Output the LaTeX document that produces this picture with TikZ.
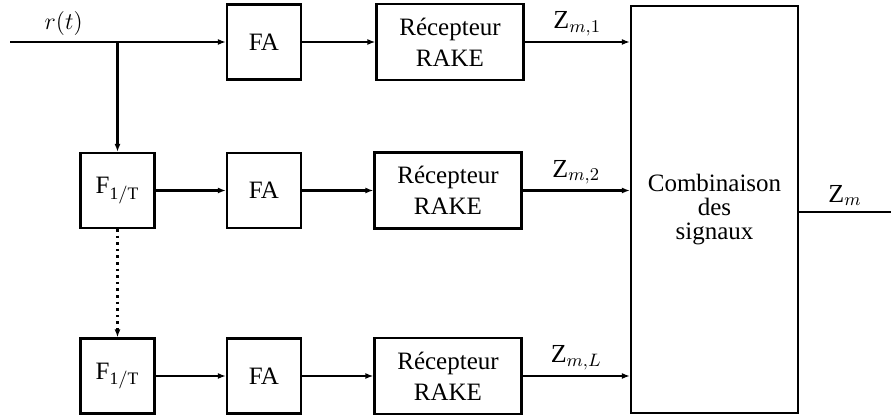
\documentclass[tikz,border=0pt]{standalone}
\usepackage{fontspec}
\setmainfont{Liberation Serif}
\usetikzlibrary{arrows.meta}
\begin{document}
\begin{tikzpicture}[x=0.5pt,y=-0.5pt,
  box/.style={draw,line width=1.1pt,inner sep=0pt,align=center,font=\fontsize{12.5}{15.5}\selectfont},
  sbox/.style={box,minimum width=37pt,minimum height=37.5pt},
  rbox/.style={box,minimum width=73.5pt,minimum height=38pt},
  conn/.style={line width=1.1pt,-{Latex[length=4pt,width=3pt]}},
  wire/.style={line width=1.1pt},
  lbl/.style={font=\fontsize{13}{15}\selectfont,inner sep=2.5pt}
]
\useasboundingbox (0,0) rectangle (891,416);
% row 1
\node[sbox] (fa1) at (264,42) {FA};
\node[rbox] (r1) at (450,42) {Récepteur\\RAKE};
% row 2
\node[sbox] (f2) at (117.5,190.5) {F$_{\mathrm{1/T}}$};
\node[sbox] (fa2) at (264,190.5) {FA};
\node[rbox] (r2) at (448,190.5) {Récepteur\\RAKE};
% row 3
\node[sbox] (f3) at (117.5,376) {F$_{\mathrm{1/T}}$};
\node[sbox] (fa3) at (264,376) {FA};
\node[rbox] (r3) at (448,376) {Récepteur\\RAKE};
% combiner
\node[box,minimum width=83.5pt,minimum height=203.5pt,font=\fontsize{12.5}{12}\selectfont] (comb) at (714.5,209.5) {Combinaison\\des\\signaux};
% coordinates
\coordinate (in) at (10,42);
\coordinate (j) at (f2 |- fa1);
\coordinate (out) at (891,212);
% connectors
\draw[wire] (in) -- node[lbl,above] (rt) {$r(t)$} (j);
\draw[conn] (j) -- (fa1);
\draw[conn] (j) -- (f2);
\draw[conn,dash pattern=on 1.3pt off 2pt] (f2) -- (f3);
\draw[conn] (fa1) -- (r1);
\draw[conn] (f2) -- (fa2);
\draw[conn] (fa2) -- (r2);
\draw[conn] (f3) -- (fa3);
\draw[conn] (fa3) -- (r3);
\draw[conn] (r1.east) -- node[lbl,above] (z1) {$\mathrm{Z}_{m,1}$} (r1.east -| comb.west);
\draw[conn] (r2.east) -- node[lbl,above] (z2) {$\mathrm{Z}_{m,2}$} (r2.east -| comb.west);
\draw[conn] (r3.east) -- node[lbl,above] (zl) {$\mathrm{Z}_{m,L}$} (r3.east -| comb.west);
\draw[wire] (comb.east |- out) -- node[lbl,above] (zm) {$\mathrm{Z}_{m}$} (out);
\end{tikzpicture}
\end{document}
